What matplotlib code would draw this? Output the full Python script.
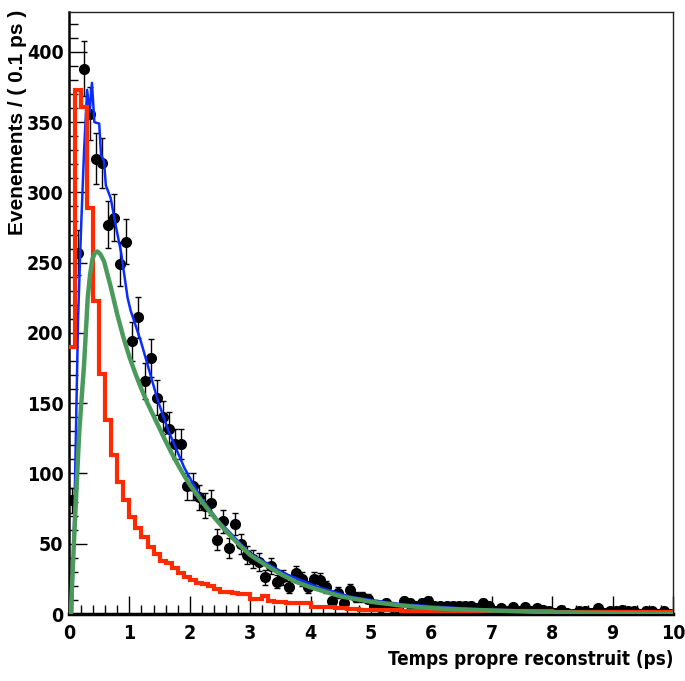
import numpy as np
import matplotlib
matplotlib.use('Agg')
import matplotlib.pyplot as plt
from matplotlib import font_manager as fm
from matplotlib.font_manager import FontProperties
from matplotlib.ticker import MultipleLocator

# ---------------- data ----------------
bin_edges = np.round(np.arange(0, 10.0001, 0.1), 2)
bin_centers = np.round(np.arange(0.05, 10, 0.1), 2)

counts = [81, 257, 388, 356, 324, 321, 277, 282, 249, 265,
          194, 211, 166, 182, 154, 140, 132, 121, 121, 91,
          91, 83, 77, 79, 53, 66, 47, 64, 50, 42,
          39, 37, 26, 34, 23, 26, 19, 29, 25, 19,
          25, 24, 19, 9, 15, 8, 17, 12, 12, 11,
          6, 5, 8, 5, 4, 9, 8, 6, 8, 9,
          6, 6, 6, 6, 6, 6, 6, 4, 8, 6,
          2, 4, 2, 5, 2, 5, 2, 4, 3, 2,
          1, 3, 1, 0, 2, 2, 1, 4, 1, 2,
          2, 3, 2, 2, 0, 2, 2, 0, 2, 0]

background = [190, 373, 361, 289, 223, 171, 138, 113, 94, 81,
              69, 61, 55, 48, 43, 38, 36, 33, 29, 26.5,
              24, 22, 21, 20, 18, 16, 16, 15, 14.5, 14.5,
              11, 11, 13, 9, 8.5, 8.5, 7.5, 7.5, 7.5, 7.5,
              5, 5, 5, 5, 4, 4, 3.5, 3.5, 3, 3,
              2.5, 2.5, 2.5, 2.5, 2.5, 2, 2, 2, 2, 2,
              2, 2, 2, 2, 2, 2, 2, 2, 2, 2,
              1.8, 1.8, 1.8, 1.8, 1.8, 1.8, 1.8, 1.8, 1.8, 1.8,
              1.6, 1.6, 1.6, 1.6, 1.6, 1.6, 1.6, 1.6, 1.6, 1.6,
              1.5, 1.5, 1.5, 1.5, 1.5, 1.5, 1.5, 1.5, 1.5, 1.5]

total_t = [0.05, 0.10, 0.15, 0.20, 0.25, 0.30, 0.34, 0.38, 0.42, 0.50,
           0.53, 0.58, 0.61, 0.69, 0.78, 0.86, 0.97, 1.02, 1.19, 1.33,
           1.47, 1.65, 1.91, 2.18, 2.46, 3.0, 3.56, 4.11, 4.66, 5.0,
           5.5, 6.0, 6.5, 7.0, 8.0, 9.0, 10.0]
total_y = [0, 95, 210, 275, 330, 373, 357, 378, 350, 349,
           327, 322, 305, 296, 275, 258, 225, 216, 194, 173,
           152, 130, 104, 83, 67, 43, 29, 19.4, 12.3, 10,
           7, 5.5, 4, 3, 2, 1.5, 1.2]

signal_t = [0.03, 0.06, 0.10, 0.17, 0.25, 0.31, 0.35, 0.39, 0.43, 0.47,
            0.52, 0.58, 0.69, 0.80, 0.90, 1.0, 1.1, 1.2, 1.3, 1.4,
            1.5, 1.6, 1.7, 1.8, 1.9, 2.0, 2.2, 2.4, 2.6, 2.8,
            3.0, 3.25, 3.5, 3.75, 4.0, 4.5, 5.0, 5.5, 6.0, 6.5,
            7.0, 8.0, 9.0, 10.0]
signal_y = [0, 30, 68, 130, 178, 225, 242, 253, 257, 258,
            256, 251, 233, 213, 197, 183, 171, 160, 150, 141,
            132, 123, 114.5, 106.5, 99, 92, 80, 69, 59, 50,
            42, 35, 28.5, 23, 19, 12.5, 8.7, 6, 4.2, 3.2,
            2.5, 1.2, 0.6, 0.3]

x_ticks = list(range(0, 11))
y_ticks = list(range(0, 401, 50))
x_label = "Temps propre reconstruit (ps)"
y_label = "Evenements / ( 0.1 ps )"


# ---------------- fonts ----------------
def pick_condensed_bold():
    entries = fm.fontManager.ttflist
    for f in entries:
        if f.name == 'Liberation Sans Narrow' and str(f.weight) in ('bold', '700'):
            return FontProperties(fname=f.fname)
    for f in entries:
        st = str(f.stretch).lower()
        wt = str(f.weight).lower()
        if 'condensed' in st and 'extra' not in st and ('bold' in wt or wt == '700'):
            return FontProperties(fname=f.fname)
    return FontProperties(family='Liberation Sans', weight='bold')


tick_fp = pick_condensed_bold()
is_condensed = tick_fp.get_file() is not None
tick_size = 14 if is_condensed else 13
xlab_size = 13.5 if is_condensed else 12.5

# ---------------- figure ----------------
W, H = 685, 681
fig = plt.figure(figsize=(W / 100, H / 100), dpi=100)
L, R, T, B = 69, 673, 12, 614
ax = fig.add_axes([L / W, 1 - B / H, (R - L) / W, (B - T) / H])

errs = np.sqrt(np.array(counts, dtype=float))
ax.errorbar(bin_centers, counts, yerr=errs, fmt='o', color='black',
            markersize=7, elinewidth=1.0, capsize=2.5, capthick=1.0, zorder=3)

ax.plot(total_t, total_y, color='#0a2cff', lw=1.8, zorder=4)
ax.stairs(background, bin_edges, baseline=None, color='#ff2a00', lw=3.0, zorder=5)
ax.plot(signal_t, signal_y, color='#4a9a5c', lw=3.2, zorder=6)

ax.set_xlim(0, 10)
ax.set_ylim(0, 428.4)
ax.set_xticks(x_ticks)
ax.set_yticks(y_ticks)
ax.xaxis.set_minor_locator(MultipleLocator(0.2))
ax.yaxis.set_minor_locator(MultipleLocator(10))
ax.tick_params(axis='both', which='major', direction='in', length=13, width=1.0,
               color='black')
ax.tick_params(axis='both', which='minor', direction='in', length=6.5, width=1.0,
               color='black')
ax.tick_params(axis='x', pad=7)
ax.tick_params(axis='y', pad=4)
ax.tick_params(top=False, right=False, which='both')

for lab in ax.get_xticklabels() + ax.get_yticklabels():
    lab.set_fontproperties(tick_fp)
    lab.set_fontsize(tick_size)

for s in ['top', 'right']:
    ax.spines[s].set_linewidth(1.0)
    ax.spines[s].set_color('#222222')
ax.spines['left'].set_linewidth(1.8)
ax.spines['bottom'].set_linewidth(2.5)

xl = ax.set_xlabel(x_label, loc='right', labelpad=5)
xl.set_fontproperties(tick_fp)
xl.set_fontsize(xlab_size)

yl = ax.set_ylabel(y_label, loc='top', fontfamily='Liberation Sans',
                   fontweight='bold', fontsize=15)
ax.yaxis.set_label_coords((27 - L) / (R - L), (B - 10) / (B - T))

fig.savefig('out.png', dpi=100)
